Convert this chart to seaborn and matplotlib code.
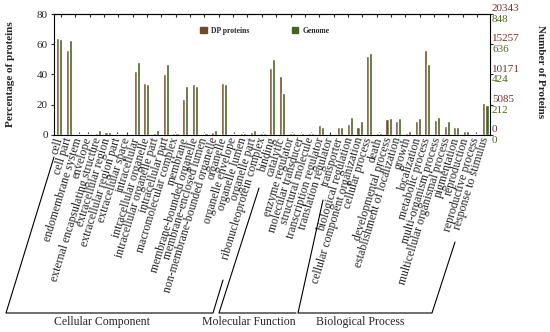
import numpy as np
import pandas as pd
import matplotlib
matplotlib.use("Agg")
import matplotlib.pyplot as plt
import matplotlib.transforms as mtransforms
from matplotlib.lines import Line2D
from matplotlib.patches import Patch
import seaborn as sns

# GO terms, grouped by ontology
cc_terms = ["cell", "cell part", "endomembrane system", "envelope",
            "external encapsulating structure", "extracellular region",
            "extracellular region part", "extracellular space", "intracellular",
            "intracellular organelle", "intracellular organelle part",
            "intracellular part", "macromolecular complex", "membrane",
            "membrane-bounded organelle", "membrane-enclosed lumen",
            "non-membrane-bounded organelle", "organelle", "organelle envelope",
            "organelle lumen", "organelle part", "ribonucleoprotein complex"]
mf_terms = ["binding", "catalytic", "enzyme regulator", "molecular transducer",
            "structural molecule", "transcription regulator",
            "translation regulator", "transporter"]
bp_terms = ["biological regulation", "cellular component organization",
            "cellular process", "death", "developmental process",
            "establishment of localization", "growth", "localization",
            "metabolic process", "multi-organism process",
            "multicellular organismal process", "pigmentation", "reproduction",
            "reproductive process", "response to stimulus"]

# percentages
dp_pct = [64, 56, 0.5, 0.3, 1.5, 1.8, 0.3, 0.2, 42.5, 34.5, 1.5, 40.5, 1.5,
          23.5, 33.5, 0.8, 2, 34.5, 0.5, 1.5, 2, 1,
          44, 39, 1, 0.5, 1.5, 6.5, 0.3, 5.5,
          7.5, 5.5, 52.5, 1, 10.5, 9.5, 1.5, 9, 56, 10, 6, 5.5, 2.5, 0.5, 21]
genome_pct = [63.5, 62.5, 0.5, 0.6, 3.5, 1.8, 0.5, 0.3, 48.5, 34, 3.5, 47, 1,
              32.5, 32.5, 1.5, 3.5, 34, 0.5, 1, 3, 1.5,
              50, 28, 1.2, 1, 1, 5.5, 0.3, 5.5,
              12, 9, 54.5, 1, 11.5, 11, 2.5, 11, 47, 12, 9, 5, 2.5, 0.5, 20]

pct_ticks = [0, 20, 40, 60, 80]
genome_counts = ["0", "5085", "10171", "15257", "20343"]
dp_counts = ["0", "212", "424", "636", "848"]

brown = "#704b26"
green = "#426520"

terms = cc_terms + mf_terms + bp_terms
n = len(terms)
df = pd.DataFrame({
    "term": terms * 2,
    "pct": dp_pct + genome_pct,
    "set": ["DP proteins"] * n + ["Genome"] * n,
})

sns.set_style("ticks")
plt.rcParams["font.family"] = ["Liberation Serif", "DejaVu Serif"]

W, H = 550, 332
fig = plt.figure(figsize=(W / 100, H / 100), dpi=100)
ax = fig.add_axes([54.3 / W, 1 - 135 / H, 436 / W, 121 / H])

sns.barplot(data=df, x="term", y="pct", hue="set", palette=[brown, green],
            width=0.64, saturation=1, legend=False, ax=ax)

ax.set_xlim(-0.5, n - 0.5)
ax.set_ylim(0, 80)
ax.set_xticks(range(n))
ax.set_xticklabels(terms, rotation=73, ha="right", va="center",
                   rotation_mode="anchor", fontsize=8.5)
ax.tick_params(axis="x", length=2, direction="in", pad=2)
ax.set_yticks(pct_ticks)
ax.tick_params(axis="y", labelsize=8, length=2.5, direction="out", pad=2)
ax.yaxis.set_ticks_position("both")
ax.set_xlabel("")
ax.set_ylabel("Percentage of proteins", fontsize=8, fontweight="bold")
ax.yaxis.set_label_coords(-0.09, 0.5)
for s in ax.spines.values():
    s.set_visible(True)
    s.set_linewidth(0.8)
    s.set_color("black")

top = ax.secondary_xaxis("top")
top.set_xticks(np.arange(0.2, n, 1.48))
top.tick_params(direction="in", length=2.5, labeltop=False)

# two-coloured labels on the right axis
tr = mtransforms.blended_transform_factory(ax.transAxes, ax.transData)
for y, a, b in zip(pct_ticks, genome_counts, dp_counts):
    ax.text(1.004, y + 0.5, a, transform=tr, color="#7a2e2e", fontsize=8,
            ha="left", va="bottom")
    ax.text(1.004, y - 0.5, b, transform=tr, color="#4d6a1c", fontsize=8,
            ha="left", va="top")
fig.text(541 / W, 1 - 72 / H, "Number of Proteins", rotation=270,
         fontsize=8, fontweight="bold", ha="center", va="center")

ax.legend(handles=[Patch(color=brown), Patch(color=green)],
          labels=["DP proteins", "Genome"], ncol=2, frameon=False,
          loc="center", bbox_to_anchor=(0.483, 0.86),
          prop={"size": 5.5, "weight": "bold"}, handlelength=0.9,
          handleheight=0.9, columnspacing=5.5, handletextpad=0.6)

# ontology brackets drawn in pixel positions
def px(pts):
    return [p[0] / W for p in pts], [1 - p[1] / H for p in pts]

brackets = [
    [(54, 157), (6, 313), (213, 313), (223, 280)],
    [(259, 188), (219, 313), (296, 313)],
    [(323, 200), (298, 313), (432, 313), (455, 242)],
]
for pts in brackets:
    xs, ys = px(pts)
    fig.add_artist(Line2D(xs, ys, color="black", lw=0.8))

for x, label in [(102, "Cellular Component"), (249, "Molecular Function"),
                 (360, "Biological Process")]:
    fig.text(x / W, 1 - 322 / H, label, fontsize=8.5, ha="center", va="center")

fig.savefig("out.png", dpi=100)
